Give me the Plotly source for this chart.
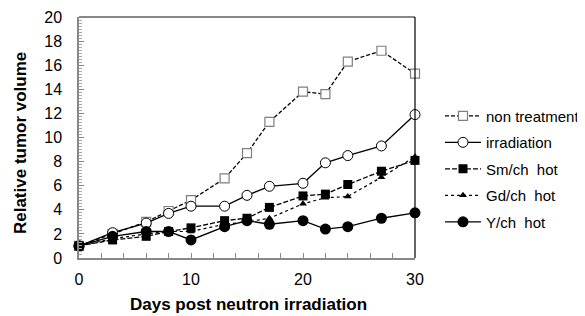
import plotly.graph_objects as go

days = [0, 3, 6, 8, 10, 13, 15, 17, 20, 22, 24, 27, 30]
non_treatment = [1.0, 2.0, 3.0, 3.9, 4.8, 6.6, 8.7, 11.3, 13.8, 13.6, 16.3, 17.2, 15.3]
irradiation = [1.0, 2.1, 2.9, 3.7, 4.3, 4.3, 5.2, 5.95, 6.2, 7.9, 8.5, 9.3, 11.9]
sm_hot = [1.0, 1.5, 1.8, 2.2, 2.5, 3.1, 3.3, 4.2, 5.15, 5.3, 6.1, 7.2, 8.1]
gd_hot = [1.0, 1.6, 2.0, 2.2, 2.2, 2.8, 3.0, 3.3, 4.5, 5.0, 5.1, 6.7, 8.4]
y_hot = [1.0, 1.8, 2.2, 2.2, 1.5, 2.6, 3.1, 2.8, 3.1, 2.4, 2.6, 3.3, 3.75]

x_ticks = [0, 10, 20, 30]
y_ticks = [0, 2, 4, 6, 8, 10, 12, 14, 16, 18, 20]

FONT = "Liberation Sans, Arial, sans-serif"

fig = go.Figure()
series = [
    ("non treatment", non_treatment, dict(dash="4px,2px", width=1.3, color="black"),
     dict(symbol="square", size=9, color="white", line=dict(color="#7f7f7f", width=1.2))),
    ("irradiation", irradiation, dict(dash="solid", width=1.3, color="black"),
     dict(symbol="circle", size=10, color="white", line=dict(color="black", width=1))),
    ("Sm/ch  hot", sm_hot, dict(dash="5px,2px", width=1.3, color="black"),
     dict(symbol="square", size=9, color="black")),
    ("Gd/ch  hot", gd_hot, dict(dash="dot", width=1.2, color="black"),
     dict(symbol="triangle-up", size=7, color="black")),
    ("Y/ch  hot", y_hot, dict(dash="solid", width=1.3, color="black"),
     dict(symbol="circle", size=11, color="black")),
]
for i, (name, vals, line, marker) in enumerate(series):
    fig.add_trace(go.Scatter(x=days, y=vals, name=name, mode="lines+markers",
                             line=line, marker=marker, legendgroup=f"g{i}",
                             cliponaxis=False))

fig.update_xaxes(range=[0, 30], tickvals=x_ticks, ticks="inside", ticklen=5,
                 tickcolor="#888", showline=True, linecolor="#888", linewidth=1.5,
                 mirror=False, showgrid=False, zeroline=False,
                 tickfont=dict(family=FONT, size=16, color="black"),
                 ticklabelstandoff=6,
                 minor=dict(dtick=2, ticks="inside", ticklen=5, tickcolor="#888"))
fig.update_yaxes(range=[0, 20], tickvals=y_ticks, ticks="inside", ticklen=5,
                 tickcolor="#888", showline=True, linecolor="#888", linewidth=1.5,
                 showgrid=False, zeroline=False,
                 tickfont=dict(family=FONT, size=16, color="black"),
                 ticklabelstandoff=12,
                 minor=dict(dtick=0.25, ticks="inside", ticklen=3, tickcolor="#aaa"))

fig.add_shape(type="line", xref="paper", yref="paper", x0=0, x1=1, y0=1, y1=1,
              line=dict(color="#888", width=2))
fig.add_shape(type="line", xref="paper", yref="paper", x0=1, x1=1, y0=0, y1=1,
              line=dict(color="black", width=1.2))

fig.add_annotation(text="<b>Relative tumor volume</b>", xref="paper", yref="paper",
                   x=-0.1756, y=0.477, textangle=-90, showarrow=False,
                   xanchor="center", yanchor="middle",
                   font=dict(family=FONT, size=17, color="black"))
fig.add_annotation(text="<b>Days post neutron irradiation</b>", xref="paper", yref="paper",
                   x=0.503, y=-0.195, showarrow=False, xanchor="center", yanchor="middle",
                   font=dict(family=FONT, size=17, color="black"))

# page body has an 8px default margin, so the figure is 8px smaller and offset
fig.update_layout(
    width=577, height=308,
    margin=dict(l=71, r=170, t=9, b=58, autoexpand=False),
    plot_bgcolor="white", paper_bgcolor="white",
    font=dict(family=FONT, color="black"),
    legend=dict(xref="container", yref="container", x=1.0, y=0.477,
                xanchor="right", yanchor="middle",
                font=dict(family=FONT, size=15, color="black"),
                tracegroupgap=4, itemwidth=36, bgcolor="rgba(0,0,0,0)"),
)

fig.write_html("out.html")
